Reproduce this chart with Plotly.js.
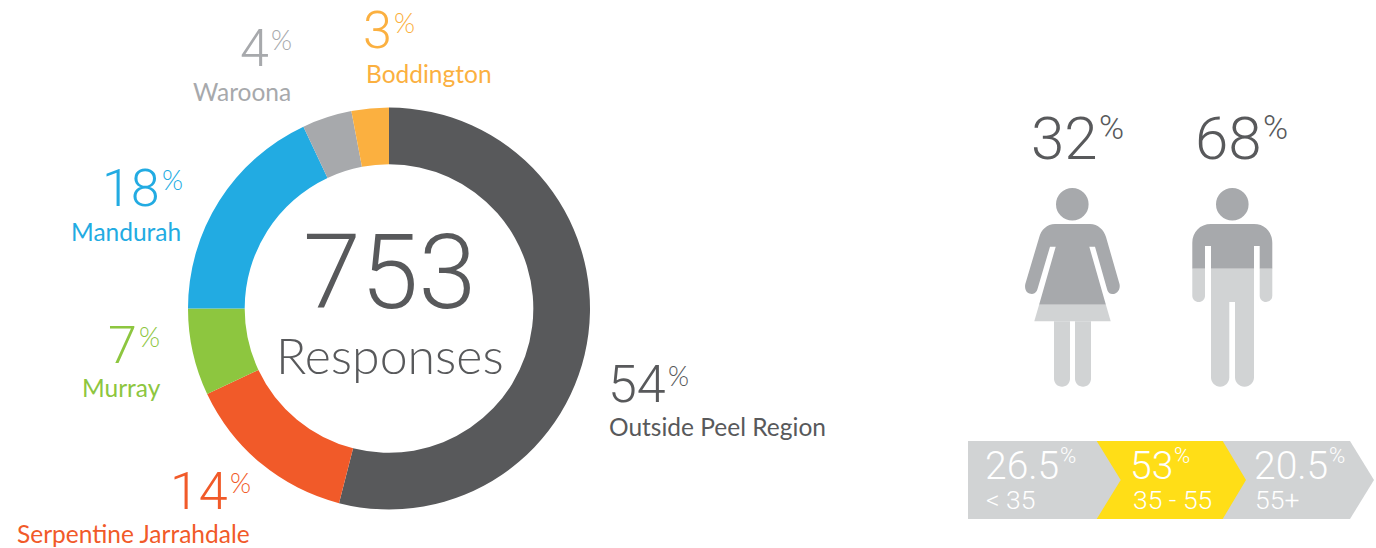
<!DOCTYPE html>
<html>
<head>
<meta charset="utf-8">
<script src="https://cdn.plot.ly/plotly-3.0.1.min.js"></script>
<style>html,body{margin:0;padding:0;background:#fff;overflow:hidden}#chart{width:1376px;height:548px}</style>
</head>
<body>
<div id="chart"></div>
<script>
// Survey responses by region
const regions = ['Outside Peel Region', 'Serpentine Jarrahdale', 'Murray', 'Mandurah', 'Waroona', 'Boddington'];
const regionShares = [54, 14, 7, 18, 4, 3];
const responseCount = '753';
const responseLabel = 'Responses';

// Respondents by gender
const genderShares = [32, 68];

// Respondents by age band
const ageBands = ['< 35', '35 - 55', '55+'];
const ageShares = [26.5, 53, 20.5];

// Styling
const W = 1376, H = 548;
const INK = '#58595b', GREY = '#a7a9ac', PALE = '#d1d3d4', YELLOW = '#ffde17';
const regionColours = [INK, '#f15a29', '#8dc63f', '#22abe2', GREY, '#fbb040'];
const NAME_FONT = 'Lato, sans-serif';
const FIG_FONT = 'Roboto, sans-serif';

const X = px => px / W;
const Y = py => 1 - py / H;

function path(cmds, fill) {
  const d = cmds.map(c => {
    const pts = [];
    for (let i = 1; i < c.length; i += 2) pts.push(X(c[i]) + ',' + Y(c[i + 1]));
    return c[0] + pts.join(' ');
  }).join(' ');
  return {type: 'path', xref: 'paper', yref: 'paper', path: d, fillcolor: fill, line: {width: 0}, layer: 'above'};
}
function disc(cx, cy, r, fill) {
  return {type: 'circle', xref: 'paper', yref: 'paper', x0: X(cx - r), x1: X(cx + r), y0: Y(cy + r), y1: Y(cy - r),
          fillcolor: fill, line: {width: 0}, layer: 'above'};
}
// Rounded-foot column from (x0,top) to (x1,bottom)
function limb(x0, x1, top, bottom) {
  const r = (x1 - x0) / 2, k = r * 0.55;
  return [['M', x0, top], ['L', x1, top], ['L', x1, bottom - r],
          ['C', x1, bottom - r + k, x1 - r + k, bottom, x1 - r, bottom],
          ['C', x0 + r - k, bottom, x0, bottom - r + k, x0, bottom - r], ['Z']];
}

const shapes = [
  // woman
  disc(1072.3, 204.3, 16.3, GREY),
  path([['M', 1055, 224], ['L', 1090, 224], ['C', 1098, 224, 1104, 230, 1106, 237], ['L', 1119.5, 284],
        ['C', 1121, 291, 1115, 294.5, 1112, 294], ['C', 1109, 294, 1107.5, 291, 1107, 289], ['L', 1095, 246.7],
        ['L', 1089.3, 246.7], ['L', 1105.9, 304.7], ['L', 1039.1, 304.7], ['L', 1055.7, 246.7], ['L', 1050, 246.7],
        ['L', 1037.5, 289], ['C', 1037, 291, 1035, 294, 1032, 294], ['C', 1028, 294, 1024, 291, 1025.3, 284],
        ['L', 1039.3, 237], ['C', 1041, 230, 1047, 224, 1055, 224], ['Z']], GREY),
  path([['M', 1039.1, 304.7], ['L', 1105.9, 304.7], ['L', 1110.7, 321.3], ['L', 1034.3, 321.3], ['Z']], PALE),
  path(limb(1054, 1070, 321.3, 386.7), PALE),
  path(limb(1075, 1091, 321.3, 386.7), PALE),
  // man
  disc(1232.3, 204.3, 16.3, GREY),
  path([['M', 1192.3, 268.7], ['L', 1192.3, 243], ['C', 1192.3, 232, 1200, 224, 1211, 224], ['L', 1254, 224],
        ['C', 1265, 224, 1272.3, 232, 1272.3, 243], ['L', 1272.3, 268.7], ['L', 1259.7, 268.7], ['L', 1259.7, 246],
        ['L', 1254, 246], ['L', 1254, 268.7], ['L', 1211, 268.7], ['L', 1211, 246], ['L', 1205, 246], ['L', 1205, 268.7], ['Z']], GREY),
  path(limb(1192.3, 1205, 268.7, 302), PALE),
  path(limb(1259.7, 1272.3, 268.7, 302), PALE),
  path([['M', 1211, 268.7], ['L', 1254, 268.7], ['L', 1254, 302], ['L', 1211, 302], ['Z']], PALE),
  path(limb(1211, 1229.3, 301, 386.7), PALE),
  path(limb(1235, 1254, 301, 386.7), PALE),
  // age ribbon
  path([['M', 968, 441], ['L', 1350, 441], ['L', 1374, 480], ['L', 1350, 519], ['L', 968, 519], ['Z']], PALE),
  path([['M', 1096.7, 441], ['L', 1222.7, 441], ['L', 1246, 480], ['L', 1222.7, 519], ['L', 1096.7, 519], ['L', 1120.7, 480], ['Z']], YELLOW)
];

const annotations = [];
function label(text, x, y, size, color, anchor, family, weight) {
  annotations.push({text: String(text), xref: 'paper', yref: 'paper', x: X(x), y: Y(y), xanchor: anchor, yanchor: 'middle',
    showarrow: false, borderpad: 0, font: {family: family, size: size, color: color, weight: weight || 300}});
}

// Value, percent mark and name beside each slice: [value right edge, value mid y, name anchor x, name mid y, anchor]
const calloutSpots = [
  [667, 384, 608, 426, 'left'],
  [229, 491, 251, 533, 'right'],
  [138, 345, 162, 387, 'right'],
  [161, 188, 182, 231, 'right'],
  [270, 48, 292, 91, 'right'],
  [393, 31, 365, 73, 'left']
];
regions.forEach((name, i) => {
  const [vx, vy, nx, ny, a] = calloutSpots[i];
  label(regionShares[i], vx, vy, 52, regionColours[i], 'right', FIG_FONT);
  label('%', vx, vy - 9, 27, regionColours[i], 'left', NAME_FONT);
  label(name, nx, ny, 24.5, regionColours[i], a, NAME_FONT, 400);
});

label(responseCount, 389, 272, 104, INK, 'center', FIG_FONT);
label(responseLabel, 390, 355, 50, INK, 'center', NAME_FONT);

[1099, 1263].forEach((vx, i) => {
  label(genderShares[i], vx, 138, 60, INK, 'right', FIG_FONT);
  label('%', vx - 1, 127, 34, INK, 'left', FIG_FONT);
});

const ageSpots = [[1060, 985], [1174, 1132], [1329, 1254]];
ageBands.forEach((band, i) => {
  const [vx, bx] = ageSpots[i];
  label(ageShares[i], vx, 466, 39, '#fff', 'right', FIG_FONT);
  label('%', vx - 1, 455, 22, '#fff', 'left', FIG_FONT);
  label(band, bx, 499, 26.5, '#fff', 'left', FIG_FONT);
});

const data = [{
  type: 'pie', labels: regions, values: regionShares, sort: false, direction: 'clockwise', rotation: 0,
  hole: 0.718, textinfo: 'none', hoverinfo: 'skip', showlegend: false,
  marker: {colors: regionColours, line: {width: 0}},
  domain: {x: [X(188), X(590)], y: [Y(509.5), Y(107.5)]}
}];

Plotly.newPlot('chart', data, {
  width: W, height: H, margin: {l: 0, r: 0, t: 0, b: 0}, paper_bgcolor: '#fff', showlegend: false,
  shapes, annotations
}, {staticPlot: true, displayModeBar: false});
</script>
</body>
</html>
